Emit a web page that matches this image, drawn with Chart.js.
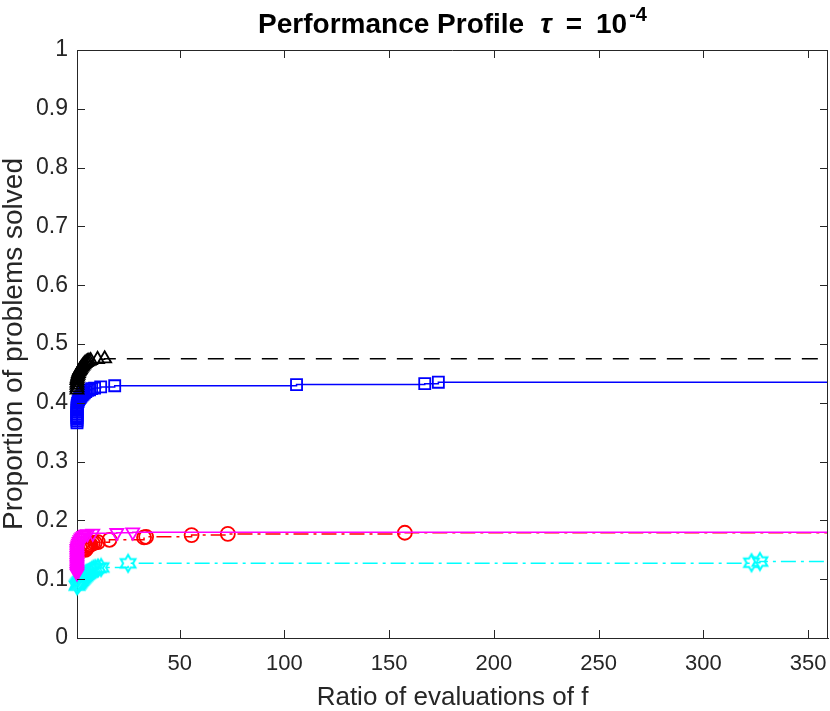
<!DOCTYPE html>
<html><head><meta charset="utf-8">
<script src="https://cdn.jsdelivr.net/npm/chart.js@4.4.0/dist/chart.umd.min.js"></script>
<style>html,body{margin:0;padding:0;background:#fff;}</style>
</head><body>
<canvas id="c" width="830" height="711"></canvas>
<script>
// ---- text ----
const titleMain = 'Performance Profile';
const titleSymbol = 'τ';
const titleEq = '=';
const titleBase = '10';
const titleExp = '-4';
const xLabel = 'Ratio of evaluations of f';
const yLabel = 'Proportion of problems solved';

// ---- axes ----
const xMin = 1, xMax = 359.5;
const xTicks = [50, 100, 150, 200, 250, 300, 350];
const yTicks = [0, 0.1, 0.2, 0.3, 0.4, 0.5, 0.6, 0.7, 0.8, 0.9, 1];
const yTickLabels = ['0', '0.1', '0.2', '0.3', '0.4', '0.5', '0.6', '0.7', '0.8', '0.9', '1'];

// ---- black dashed, triangles ----
const xBlack = [1, 1, 1, 1, 1, 1.1, 1.3, 1.5, 1.7, 2.0, 2.3, 2.6, 3.0, 3.4, 3.8, 4.3, 4.8, 5.4, 6.0, 6.7, 7.5, 10.8, 14.2, 359.5];
const yBlack = [0.422, 0.426, 0.430, 0.434, 0.438, 0.441, 0.444, 0.447, 0.450, 0.453, 0.455, 0.457, 0.459, 0.461, 0.463, 0.465, 0.467, 0.469, 0.470, 0.471, 0.472, 0.474, 0.475, 0.475];
// ---- blue solid, squares ----
const xBlue = [1, 1, 1, 1, 1, 1, 1, 1, 1, 1, 1.1, 1.3, 1.5, 1.8, 2.1, 2.5, 2.9, 3.4, 3.9, 4.5, 5.2, 6, 7, 8, 9.4, 12.3, 19, 105.8, 167, 173.5, 359.5];
const yBlue = [0.366, 0.369, 0.372, 0.375, 0.378, 0.381, 0.384, 0.387, 0.390, 0.393, 0.396, 0.399, 0.402, 0.405, 0.407, 0.409, 0.411, 0.413, 0.415, 0.417, 0.419, 0.421, 0.422, 0.424, 0.425, 0.427, 0.429, 0.431, 0.4325, 0.435, 0.435];
// ---- magenta solid, down triangles ----
const xMagenta = [1, 1, 1, 1, 1, 1, 1, 1, 1, 1, 1, 1, 1, 1, 1, 1.2, 1.4, 1.7, 2.0, 2.4, 2.9, 3.5, 4.2, 5, 6, 8.5, 20, 27.6, 359.5];
const yMagenta = [0.110, 0.113, 0.116, 0.119, 0.122, 0.125, 0.128, 0.131, 0.134, 0.137, 0.140, 0.143, 0.146, 0.149, 0.152, 0.155, 0.158, 0.161, 0.164, 0.167, 0.170, 0.172, 0.174, 0.176, 0.177, 0.178, 0.179, 0.180, 0.180];
// ---- red dash-dot, circles ----
const xRed = [5, 5.4, 5.8, 6.2, 6.6, 7, 7.5, 8.5, 9.5, 11, 16.5, 33, 34, 55.7, 73, 157.5, 359.5];
const yRed = [0.150, 0.152, 0.154, 0.156, 0.157, 0.158, 0.159, 0.161, 0.162, 0.163, 0.167, 0.171, 0.172, 0.175, 0.177, 0.179, 0.179];
// ---- cyan dash-dot, hexagrams ----
const xCyan = [1, 1.4, 1.8, 2.2, 2.7, 3.2, 3.7, 4.2, 4.8, 5.4, 6, 6.7, 7.4, 8.1, 8.9, 9.8, 11, 12.5, 25.4, 323, 327, 359.5];
const yCyan = [0.089, 0.091, 0.093, 0.095, 0.097, 0.099, 0.101, 0.103, 0.105, 0.107, 0.109, 0.111, 0.113, 0.115, 0.117, 0.118, 0.119, 0.120, 0.127, 0.128, 0.130, 0.130];

const axisColor = '#262626';
const fontFam = '"Liberation Sans", Arial, Helvetica, sans-serif';

function pts(xs, ys) { return xs.map((x, i) => ({ x: x, y: ys[i] })); }

// hexagram marker
function makeHexagram(color) {
  const s = 22, c = document.createElement('canvas');
  c.width = s; c.height = s;
  const g = c.getContext('2d');
  const R = 8.5, r = R / Math.sqrt(3);
  g.beginPath();
  for (let k = 0; k < 12; k++) {
    const a = -Math.PI / 2 + k * Math.PI / 6;
    const rad = k % 2 === 0 ? R : r;
    const px = s / 2 + rad * Math.cos(a), py = s / 2 + rad * Math.sin(a);
    if (k === 0) g.moveTo(px, py); else g.lineTo(px, py);
  }
  g.closePath();
  g.strokeStyle = color; g.lineWidth = 2; g.lineJoin = 'miter'; g.stroke();
  return c;
}
const hexCyan = makeHexagram('#00ffff');

const lastHidden = (r) => (ctx) => ctx.dataIndex === ctx.dataset.data.length - 1 ? 0 : r;

function ds(label, xs, ys, color, dash, style, r, rot) {
  return {
    label: label, data: pts(xs, ys), borderColor: color, borderWidth: 1.5,
    borderDash: dash, stepped: 'before', fill: false, clip: false,
    pointStyle: style, pointRadius: lastHidden(r), pointRotation: rot || 0,
    pointBorderColor: color, pointBackgroundColor: 'rgba(0,0,0,0)', pointBorderWidth: 1.8,
    pointHoverRadius: 0
  };
}

const titlePlugin = {
  id: 'titlePlugin',
  afterDraw(chart) {
    const ctx = chart.ctx;
    const base = 'bold 28px ' + fontFam;
    const pieces = [
      { t: titleMain, f: base, dy: 0, gap: 16 },
      { t: titleSymbol, f: 'italic bold 28px ' + fontFam, dy: 0, gap: 14 },
      { t: titleEq, f: base, dy: 0, gap: 14 },
      { t: titleBase, f: base, dy: 0, gap: 2 },
      { t: titleExp, f: 'bold 20px ' + fontFam, dy: -12, gap: 0 }
    ];
    ctx.save();
    let total = 0;
    pieces.forEach(p => { ctx.font = p.f; p.w = ctx.measureText(p.t).width; total += p.w + p.gap; });
    const cx = (chart.chartArea.left + chart.chartArea.right) / 2;
    let x = cx - total / 2;
    ctx.fillStyle = '#000';
    ctx.textBaseline = 'alphabetic';
    ctx.textAlign = 'left';
    pieces.forEach(p => { ctx.font = p.f; ctx.fillText(p.t, x, 33 + p.dy); x += p.w + p.gap; });
    ctx.restore();
  }
};

const boxPlugin = {
  id: 'boxPlugin',
  afterDraw(chart) {
    const { ctx, chartArea: { left, right, top, bottom }, scales: { x, y } } = chart;
    ctx.save();
    ctx.strokeStyle = axisColor; ctx.lineWidth = 1;
    ctx.beginPath();
    ctx.moveTo(left, top + 0.5); ctx.lineTo(right, top + 0.5);
    ctx.moveTo(right - 0.5, top); ctx.lineTo(right - 0.5, bottom);
    const tl = 8;
    xTicks.forEach(v => {
      const px = Math.round(x.getPixelForValue(v)) + 0.5;
      ctx.moveTo(px, bottom); ctx.lineTo(px, bottom - tl);
      ctx.moveTo(px, top); ctx.lineTo(px, top + tl);
    });
    yTicks.forEach(v => {
      const py = Math.round(y.getPixelForValue(v)) + 0.5;
      ctx.moveTo(left, py); ctx.lineTo(left + tl, py);
      ctx.moveTo(right, py); ctx.lineTo(right - tl, py);
    });
    ctx.stroke();
    ctx.restore();
  }
};

new Chart(document.getElementById('c'), {
  type: 'line',
  data: {
    datasets: [
      ds('Solver 1', xBlack, yBlack, '#000000', [16, 11], 'triangle', 7.5, 0),
      ds('Solver 2', xBlue, yBlue, '#0000ff', [], 'rect', 7.8, 0),
      ds('Solver 3', xMagenta, yMagenta, '#ff00ff', [], 'triangle', 7.5, 180),
      ds('Solver 4', xRed, yRed, '#ff0000', [15, 5, 3, 5], 'circle', 7, 0),
      ds('Solver 5', xCyan, yCyan, '#00ffff', [15, 5, 3, 5], hexCyan, 7, 0)
    ]
  },
  options: {
    responsive: false,
    animation: false,
    devicePixelRatio: 1,
    layout: { autoPadding: false, padding: { top: 50, right: 2, bottom: 0, left: 0 } },
    plugins: { legend: { display: false }, tooltip: { enabled: false }, title: { display: false } },
    events: [],
    scales: {
      x: {
        type: 'linear', min: xMin, max: xMax,
        afterBuildTicks: s => { s.ticks = xTicks.map(v => ({ value: v })); },
        afterFit: s => { s.height = 73; s.paddingLeft = 0; s.paddingRight = 0; },
        grid: { display: false, drawTicks: false },
        border: { display: true, color: axisColor, width: 1 },
        ticks: { color: axisColor, font: { family: fontFam, size: 22 }, padding: 13, maxRotation: 0, autoSkip: false },
        title: { display: true, text: xLabel, color: axisColor, font: { family: fontFam, size: 26, lineHeight: 1 }, padding: { top: 0, bottom: 0 } }
      },
      y: {
        type: 'linear', min: 0, max: 1,
        afterBuildTicks: s => { s.ticks = yTicks.map(v => ({ value: v })); },
        afterFit: s => { s.width = 77; s.paddingTop = 0; s.paddingBottom = 0; },
        grid: { display: false, drawTicks: false },
        border: { display: true, color: axisColor, width: 1 },
        ticks: { color: axisColor, font: { family: fontFam, size: 23 }, padding: 9,
          callback: (v) => { const i = yTicks.findIndex(t => Math.abs(t - v) < 1e-9); return i >= 0 ? yTickLabels[i] : ''; } },
        title: { display: true, text: yLabel, color: axisColor, font: { family: fontFam, size: 28, lineHeight: 1 }, padding: { top: 0, bottom: 0 } }
      }
    }
  },
  plugins: [titlePlugin, boxPlugin]
});
</script>
</body></html>
